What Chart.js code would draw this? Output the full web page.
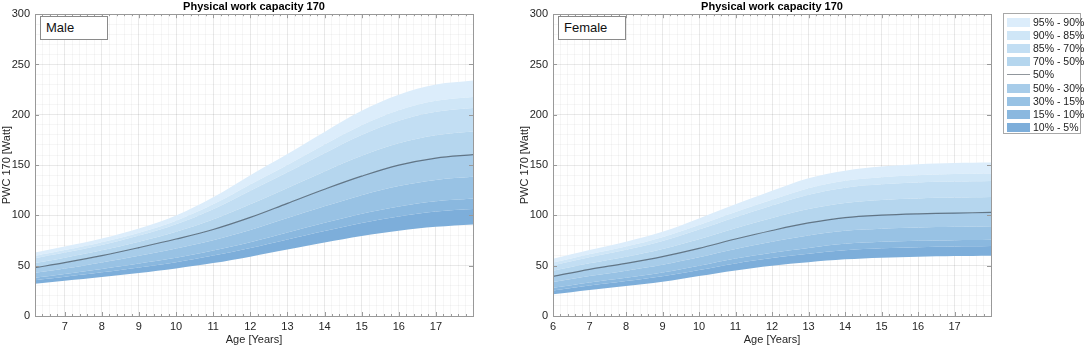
<!DOCTYPE html>
<html>
<head>
<meta charset="utf-8">
<script src="https://cdn.jsdelivr.net/npm/chart.js@4/dist/chart.umd.min.js"></script>
<style>
  html, body { margin:0; padding:0; background:#fff; }
  body { width:1084px; height:348px; position:relative; overflow:hidden; font-family:"Liberation Sans", Arial, sans-serif; }
  canvas { position:absolute; top:0; }
  .tag { position:absolute; top:16px; height:22px; border:1px solid #8a8a8a; background:#fff; font-size:13px; line-height:22px; padding-left:5px; color:#111; box-sizing:content-box; }
  #legend { position:absolute; left:1003px; top:13px; width:76px; height:119px; border:1px solid #a8a8a8; background:#fff; }
  .lrow { position:absolute; left:0; height:12px; width:76px; }
  .sw { position:absolute; left:3px; top:1px; width:23px; height:9px; }
  .ln { position:absolute; left:3px; top:5px; width:23px; height:0; border-top:1.3px solid rgba(70,80,90,0.6); }
  .lt { position:absolute; left:29px; top:-1px; font-size:10.5px; color:#222; white-space:nowrap; }
</style>
</head>
<body>
<canvas id="male" width="490" height="348" style="left:0px"></canvas>
<canvas id="female" width="490" height="348" style="left:518px"></canvas>
<div class="tag" style="left:40px;width:61px;">Male</div>
<div class="tag" style="left:558px;width:61px;">Female</div>
<div id="legend"></div>
<script>
// ---------- data ----------
const maleAges = [6.2, 7, 8, 9, 10, 11, 12, 13, 14, 15, 16, 17, 18];
const maleP5  = [32, 35, 38.8, 42.8, 47.3, 52.6, 59, 66, 73, 79.5, 84.8, 88.6, 91];
const maleP10 = [35.5, 39, 43.4, 48.3, 53.5, 60.1, 67.6, 76.1, 84.5, 92.5, 99, 103.8, 106.3];
const maleP15 = [37.9, 41.7, 46.8, 52.2, 57.9, 65.2, 73.4, 83, 92.6, 101.6, 108.8, 114, 116.7];
const maleP30 = [42.9, 47.2, 53.3, 60, 67.1, 75.4, 85.5, 97.3, 109, 120.1, 129.2, 135.2, 138.3];
const maleP50 = [48, 53, 60, 68, 76.5, 86, 98, 112, 126, 139, 150, 157, 160.5];
const maleP70 = [52.7, 58, 65.3, 73.9, 83.8, 95.9, 111, 127.2, 143.7, 159.2, 171.7, 179.6, 183.3];
const maleP85 = [57.5, 63.1, 70.7, 80, 91.3, 106.2, 124.5, 142.9, 161.9, 180, 194.1, 203, 206.8];
const maleP90 = [59.7, 65.5, 73.3, 82.8, 94.8, 111, 130.8, 150.2, 170.5, 189.7, 204.6, 213.9, 217.8];
const maleP95 = [63, 69, 77, 87, 100, 118, 140, 161, 183, 204, 220, 230, 234];

const femaleAges = [6, 7, 8, 9, 10, 11, 12, 13, 14, 15, 16, 17, 18];
const femaleP5  = [21.5, 25.8, 29.8, 34, 39.7, 45.3, 50, 53.4, 56.3, 58, 59, 59.6, 60];
const femaleP10 = [25.4, 30.3, 34.7, 39.5, 45.7, 52.3, 57.6, 61.8, 65.3, 67.3, 68.4, 69, 69.5];
const femaleP15 = [28.1, 33.4, 38.1, 43.2, 49.9, 57.1, 62.9, 67.7, 71.7, 73.7, 74.8, 75.4, 75.9];
const femaleP30 = [33.7, 39.8, 45.1, 51, 58.4, 66.6, 73.8, 80, 84.7, 86.8, 88, 88.6, 89.2];
const femaleP50 = [39.4, 46.4, 52.3, 59, 67.2, 76.5, 85, 92.5, 97.8, 100.3, 101.6, 102.3, 103];
const femaleP70 = [44.9, 52.4, 59, 66.7, 76.4, 87.2, 97.3, 106.3, 112.4, 115.4, 116.9, 117.7, 118.3];
const femaleP85 = [50.5, 58.5, 65.8, 74.6, 86, 98.2, 109.8, 120.5, 127.5, 130.9, 132.7, 133.6, 134.2];
const femaleP90 = [53.1, 61.4, 69.1, 78.3, 90.4, 103.4, 115.6, 127, 134.5, 138, 140, 141.1, 141.6];
const femaleP95 = [57, 65.6, 73.8, 83.7, 97, 111, 124.5, 137, 144.5, 148.5, 150.8, 152, 152.5];

const bandLabels = ['95% - 90%', '90% - 85%', '85% - 70%', '70% - 50%', '50%', '50% - 30%', '30% - 15%', '15% - 10%', '10% - 5%'];
const chartTitle = 'Physical work capacity 170';
const xTitle = 'Age [Years]';
const yTitle = 'PWC 170 [Watt]';

// ---------- styles ----------
const C = {
  b95_90: '#dcedfb', b90_85: '#cfe6f7', b85_70: '#c2def3', b70_50: '#b5d6ee',
  b50_30: '#a7cce9', b30_15: '#98c2e4', b15_10: '#8ab8df', b10_5: '#7daeda',
  median: 'rgba(60,75,90,0.7)'
};
const FONT = '"Liberation Sans", Arial, sans-serif';
Chart.defaults.font.family = FONT;

function isMajor(v){ return Math.abs(v - Math.round(v)) < 1e-6; }

const framePlugin = {
  id: 'frame',
  afterDraw(chart){
    const {ctx, chartArea:a, scales} = chart;
    ctx.save();
    ctx.strokeStyle = '#9a9a9a';
    ctx.lineWidth = 1;
    ctx.beginPath();
    scales.x.ticks.forEach(t => {
      const px = Math.round(scales.x.getPixelForValue(t.value)) + 0.5;
      const len = isMajor(t.value) ? 4 : 2;
      ctx.moveTo(px, a.bottom); ctx.lineTo(px, a.bottom - len);
      ctx.moveTo(px, a.top); ctx.lineTo(px, a.top + len);
    });
    scales.y.ticks.forEach(t => {
      if (t.value % 50 !== 0) return;
      const py = Math.round(scales.y.getPixelForValue(t.value)) + 0.5;
      ctx.moveTo(a.left, py); ctx.lineTo(a.left + 4, py);
      ctx.moveTo(a.right, py); ctx.lineTo(a.right - 4, py);
    });
    ctx.stroke();
    ctx.strokeStyle = '#999';
    ctx.strokeRect(Math.round(a.left) + 0.5, Math.round(a.top) + 0.5, Math.round(a.right - a.left), Math.round(a.bottom - a.top));
    ctx.restore();
  }
};

function pts(xs, ys){ return xs.map((x, i) => ({x, y: ys[i]})); }

function makeChart(id, ages, P, xmin){
  const band = (data, color) => ({
    data: pts(ages, data), fill: '-1', backgroundColor: color,
    borderColor: 'transparent', borderWidth: 0, pointRadius: 0, tension: 0.35
  });
  const datasets = [
    { data: pts(ages, P[0]), fill: false, borderColor: 'transparent', borderWidth: 0, pointRadius: 0, tension: 0.35 },
    band(P[1], C.b10_5),
    band(P[2], C.b15_10),
    band(P[3], C.b30_15),
    Object.assign(band(P[4], C.b50_30), { borderColor: C.median, borderWidth: 1.2 }),
    band(P[5], C.b70_50),
    band(P[6], C.b85_70),
    band(P[7], C.b90_85),
    band(P[8], C.b95_90)
  ];
  return new Chart(document.getElementById(id), {
    type: 'line',
    data: { datasets },
    options: {
      responsive: false, animation: false,
      layout: { padding: { left: 0, right: 17, top: 0, bottom: 0 } },
      plugins: {
        legend: { display: false }, tooltip: { enabled: false },
        filler: { drawTime: 'beforeDatasetsDraw' },
        title: { display: true, text: chartTitle, fullSize: false, color: '#000',
                 font: { size: 11, weight: 'bold' }, padding: { top: 0, bottom: 1 } }
      },
      scales: {
        x: {
          type: 'linear', min: xmin, max: 18, z: 1,
          afterFit(s){ s.height = 32; },
          ticks: { stepSize: 0.2, autoSkip: false, maxRotation: 0, padding: 4, color: '#262626', font: { size: 11 },
                   callback: v => (isMajor(v) && Math.round(v) < 18) ? String(Math.round(v)) : '' },
          grid: { drawTicks: false, color: c => isMajor(c.tick.value) ? 'rgba(0,0,0,0.085)' : 'rgba(0,0,0,0.035)' },
          border: { display: false },
          title: { display: true, text: xTitle, color: '#262626', font: { size: 11 }, padding: { top: 0, bottom: 1 } }
        },
        y: {
          min: 0, max: 300, z: 1,
          afterFit(s){ s.width = 35; },
          ticks: { stepSize: 10, autoSkip: false, padding: 5, color: '#262626', font: { size: 11 },
                   callback: v => (v % 50 === 0) ? String(v) : '' },
          grid: { drawTicks: false, color: c => (c.tick.value % 50 === 0) ? 'rgba(0,0,0,0.085)' : 'rgba(0,0,0,0.035)' },
          border: { display: false },
          title: { display: true, text: yTitle, color: '#262626', font: { size: 11 }, padding: { top: 0, bottom: 0 } }
        }
      }
    },
    plugins: [framePlugin]
  });
}

makeChart('male', maleAges, [maleP5, maleP10, maleP15, maleP30, maleP50, maleP70, maleP85, maleP90, maleP95], 6.2);
makeChart('female', femaleAges, [femaleP5, femaleP10, femaleP15, femaleP30, femaleP50, femaleP70, femaleP85, femaleP90, femaleP95], 6);

// legend
const legendColors = [C.b95_90, C.b90_85, C.b85_70, C.b70_50, null, C.b50_30, C.b30_15, C.b15_10, C.b10_5];
const lg = document.getElementById('legend');
bandLabels.forEach((lab, i) => {
  const row = document.createElement('div');
  row.className = 'lrow';
  row.style.top = (3 + i * 13.1) + 'px';
  const mark = document.createElement('div');
  if (legendColors[i]) { mark.className = 'sw'; mark.style.background = legendColors[i]; }
  else { mark.className = 'ln'; }
  const t = document.createElement('div');
  t.className = 'lt'; t.textContent = lab;
  row.appendChild(mark); row.appendChild(t);
  lg.appendChild(row);
});
</script>
</body>
</html>
